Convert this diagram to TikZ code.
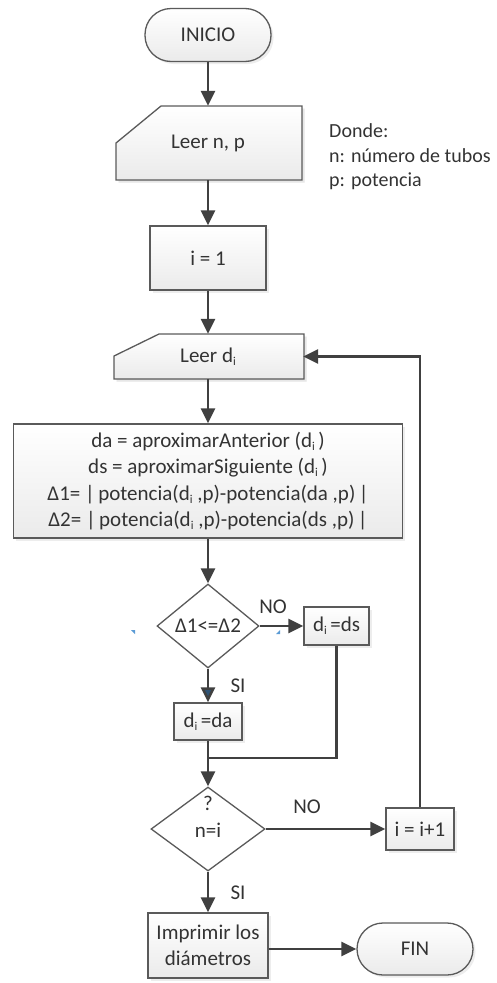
\documentclass[tikz,border=0pt]{standalone}
\usepackage{fontspec}
\setmainfont{Carlito}
\usetikzlibrary{arrows.meta,shapes.geometric,shadows}
\definecolor{edge}{HTML}{5A5A5A}
\definecolor{wire}{HTML}{404040}
\definecolor{ink}{HTML}{333333}
\definecolor{tipblue}{HTML}{2E5375}
\definecolor{tick}{HTML}{5B9BD5}
\newcommand\subi{\raisebox{-3pt}{\fontsize{12}{12}\selectfont i}}
\tikzset{
  boxlook/.style={draw=edge, line width=1.3pt, top color=white, bottom color=black!8,
    drop shadow={shadow xshift=2.5pt, shadow yshift=-2.5pt, fill=black!10, opacity=0.7}},
  procbox/.style={boxlook, rectangle, inner sep=0pt, align=center},
  termbox/.style={boxlook, rectangle, rounded corners=26pt, inner sep=0pt},
  decbox/.style={draw=edge, line width=1.3pt, diamond, inner sep=0pt, fill=white},
  flow/.style={draw=wire, line width=2.6pt, -{Triangle[length=15pt,width=14pt]}},
  wireline/.style={draw=wire, line width=2.6pt},
  lbl/.style={text=ink, inner sep=0pt},
  inshadow/.style={fill=black!10, opacity=0.7},
}
\begin{document}
\begin{tikzpicture}[x=1pt,y=-1pt, font=\fontsize{21}{26.5}\selectfont, text=ink]
\useasboundingbox (0,0) rectangle (497,983);

% terminals
\node[termbox, minimum width=126pt, minimum height=53pt] (inicio) at (208,35) {INICIO};

% manual input: read n, p
\fill[inshadow] (118.5,145.5) -- (163.5,108.5) -- (304.5,108.5) -- (304.5,182.5) -- (118.5,182.5) -- cycle;
\path[boxlook, drop shadow={opacity=0}] (116,180) -- (116,143) -- (161,106) -- (302,106) -- (302,180) -- cycle;
\node[lbl, minimum width=186pt, minimum height=74pt] (leer1) at (208,143) {Leer n, p};

\node[lbl, anchor=west, align=left, font=\fontsize{20}{24.5}\selectfont] (donde) at (329,157) {Donde:\\n: número de tubos\\p: potencia};

\node[procbox, minimum width=116pt, minimum height=64pt] (i1) at (208,258) {i = 1};

% manual input: read d_i
\fill[inshadow] (116.5,358.5) -- (161.5,336.5) -- (306.5,336.5) -- (306.5,381.5) -- (116.5,381.5) -- cycle;
\path[boxlook, drop shadow={opacity=0}] (114,379) -- (114,356) -- (159,334) -- (304,334) -- (304,379) -- cycle;
\node[lbl, minimum width=190pt, minimum height=45pt] (leer2) at (208,356.5) {Leer d\subi};

\node[procbox, minimum width=389pt, minimum height=114pt] (calc) at (208,481)
  {da = aproximarAnterior (d\subi\,)\\
   ds = aproximarSiguiente (d\subi\,)\\
   Δ1= |\,potencia(d\subi\ ,p)-potencia(da ,p)\,|\\
   Δ2= |\,potencia(d\subi\ ,p)-potencia(ds ,p)\,|};

\node[decbox, minimum width=102pt, minimum height=84pt] (d1) at (208,626) {Δ1<=Δ2};
\node[procbox, minimum width=65pt, minimum height=38pt] (ds) at (336.5,626) {d\subi\,=ds};
\node[procbox, minimum width=68pt, minimum height=37pt] (da) at (208,721.5) {d\subi\,=da};

\node[decbox, minimum width=114pt, minimum height=84pt] (d2) at (208,829) {};
\node[lbl] (q) at (208,803) {?};
\node[lbl] (neq) at (208,830) {n=i};
\node[procbox, minimum width=68pt, minimum height=42pt] (inc) at (420,829) {i = i+1};

\node[procbox, minimum width=120pt, minimum height=65pt] (imp) at (208,945.5) {Imprimir los\\diámetros};
\node[termbox, minimum width=116pt, minimum height=52pt] (fin) at (415,949) {FIN};

% small marks beside the first decision
\fill[tick] (131,630) -- (135,630) -- (135,634) -- cycle;
\fill[tick] (276,634) -- (280,630) -- (280,634) -- cycle;

% connectors
\draw[flow] (inicio) -- (leer1);
\draw[flow] (leer1) -- (i1);
\draw[flow] (i1) -- (leer2);
\draw[flow] (leer2) -- (calc);
\draw[flow] (calc) -- (d1);
\draw[flow] (d1.east) -- (ds.west);
\node[lbl] (no1) at (273,607) {NO};
\draw[wireline, -{Triangle[length=15pt,width=14pt,fill=tipblue]}] (d1.south) -- (da.north);
\node[lbl] (si1) at (238,686) {SI};
\coordinate (join) at (208,758);
\draw[wireline] (ds.south) |- (join);
\draw[flow] (da.south) -- (d2.north);
\draw[flow] (d2.east) -- (inc.west);
\node[lbl] (no2) at (307,807) {NO};
\draw[flow] (inc.north) |- (leer2.east);
\draw[flow] (d2.south) -- (imp.north);
\node[lbl] (si2) at (238,893) {SI};
\draw[flow] (imp.east |- fin.west) -- (fin.west);
\end{tikzpicture}
\end{document}
